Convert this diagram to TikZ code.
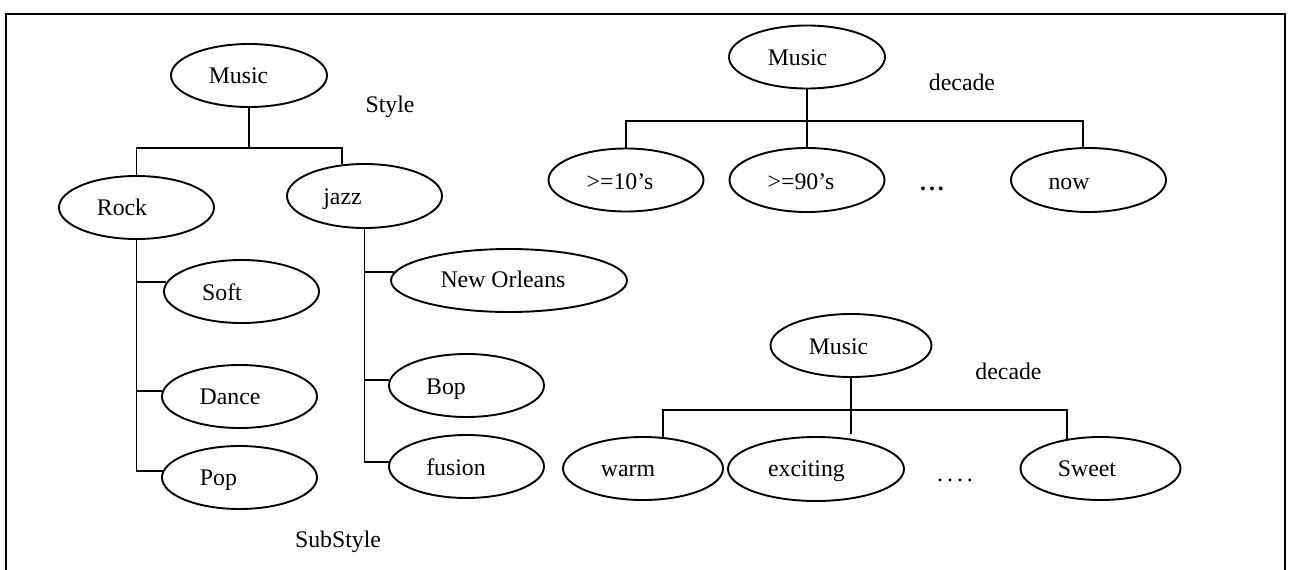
\documentclass[tikz,border=0pt]{standalone}
\usepackage{fontspec}
\setmainfont{Liberation Serif}
\usetikzlibrary{shapes.geometric}
\begin{document}
\begin{tikzpicture}[x=1pt,y=-1pt,
  oval/.style={draw, ellipse, line width=1.9pt, inner sep=0pt, minimum width=155pt, minimum height=63pt},
  txt/.style={anchor=base, inner sep=0pt, font=\fontsize{23.8}{28}\selectfont},
  conn/.style={line width=1.9pt},
  frameline/.style={line width=1.7pt}]
\useasboundingbox (0,0) rectangle (1293,570);
% frame (open at bottom)
\draw[frameline] (6,575) -- (6,14) -- (1285,14) -- (1285,575);

% ---------- left tree ----------
\node[oval, minimum width=156pt] (mL) at (249,75.5) {};
\node[oval] (rock) at (136.5,207.5) {};
\node[oval, minimum height=64pt] (jazz) at (364.5,196) {};
\node[oval] (soft) at (241.5,291.5) {};
\node[oval] (dance) at (239.5,396.5) {};
\node[oval] (pop) at (239.5,477.5) {};
\node[oval, minimum width=236pt] (no) at (509,280.5) {};
\node[oval] (bop) at (466.5,385.5) {};
\node[oval] (fusion) at (466.5,466.5) {};

\node[txt] (tmL) at (238.5,83.3) {Music};
\node[txt] (tstyle) at (390,112.5) {Style};
\node[txt] (trock) at (122,215) {Rock};
\node[txt] (tjazz) at (342.5,204) {jazz};
\node[txt] (tsoft) at (222,300.7) {Soft};
\node[txt] (tdance) at (230,404) {Dance};
\node[txt] (tpop) at (218.5,485) {Pop};
\node[txt] (tsub) at (338,547) {SubStyle};
\node[txt] (tno) at (503,287.7) {New Orleans};
\node[txt] (tbop) at (446,394) {Bop};
\node[txt] (tfusion) at (456,475) {fusion};

\coordinate (hubL) at (249,148);
\draw[conn] (mL.south) -- (hubL);
\draw[conn] (rock.north) -- (rock.north |- hubL) -- (hubL -| jazz.125) -- (jazz.125);
\draw[conn] (rock.south) |- (soft.173.5);
\draw[conn] (rock.south) |- (dance.176);
\draw[conn] (rock.south) |- (pop.175);
\draw[conn] (jazz.south) |- (no.176);
\draw[conn] (jazz.south) |- (bop.176);
\draw[conn] (jazz.south) |- (fusion.177);

% ---------- top right tree ----------
\node[oval, minimum width=156pt] (mTR) at (807,57) {};
\node[oval] (d10) at (626,180) {};
\node[oval, minimum height=64pt] (d90) at (807,180) {};
\node[oval, minimum height=64pt] (now) at (1088.5,180) {};

\node[txt] (tmTR) at (797.5,65) {Music};
\node[txt] (tdecTR) at (962,90.7) {decade};
\node[txt] (td10) at (620,189) {>=10’s};
\node[txt] (td90) at (801,189) {>=90’s};
\node[txt] (tdots) at (932,190) {\textbf{.\kern3pt.\kern3pt.}};
\node[txt] (tnow) at (1069,189) {now};

\coordinate (hubTR) at (807,121);
\draw[conn] (mTR.south) -- (d90.north);
\draw[conn] (d10.north) |- (hubTR) -| (now.99);

% ---------- bottom right tree ----------
\node[oval, minimum width=161pt] (mBR) at (851,345.5) {};
\node[oval, minimum width=160pt] (warm) at (643,468.5) {};
\node[oval, minimum width=176pt, minimum height=64pt] (exciting) at (816,469) {};
\node[oval, minimum width=160pt] (sweet) at (1100.5,468.5) {};

\node[txt] (tmBR) at (838.5,354) {Music};
\node[txt] (tdecBR) at (1008.5,379) {decade};
\node[txt] (twarm) at (628,476.7) {warm};
\node[txt] (texc) at (806.5,476.7) {exciting};
\node[txt] (tdots2) at (955,481) {.\kern4pt.\kern4pt.\kern4pt.};
\node[txt] (tsweet) at (1087,476.7) {Sweet};

\coordinate (hubBR) at (851,410);
\coordinate (trunkBR) at (851,434);
\draw[conn] (mBR.south) -- (trunkBR);
\draw[conn] (warm.57) |- (hubBR) -| (sweet.139);
\end{tikzpicture}
\end{document}
